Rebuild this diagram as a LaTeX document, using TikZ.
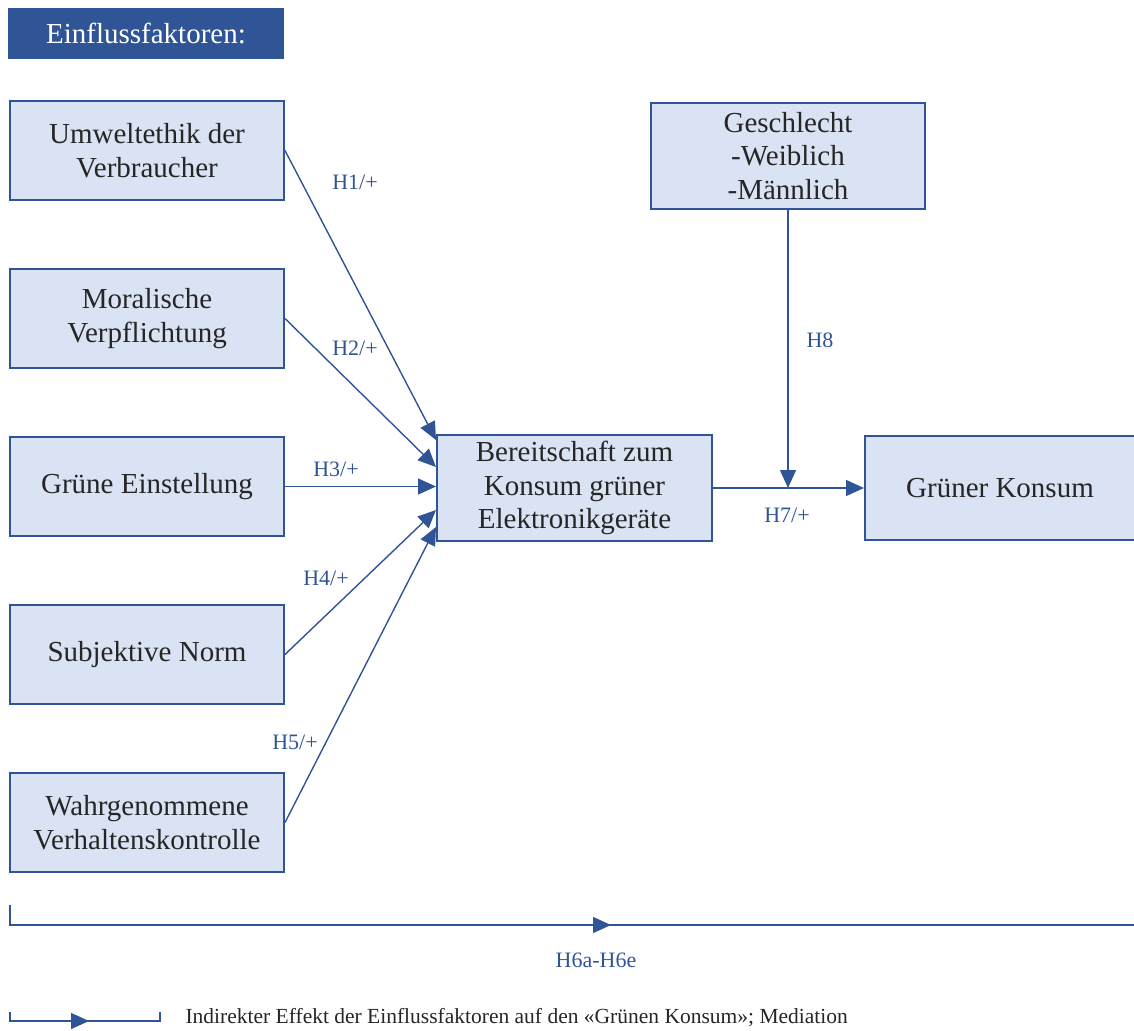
\documentclass[tikz,border=0pt]{standalone}
\usepackage{fontspec}
\setmainfont{Liberation Serif}
\usetikzlibrary{arrows.meta}
\definecolor{dunkelblau}{HTML}{2F5597}
\definecolor{hellblau}{HTML}{DAE3F3}

\begin{document}
\begin{tikzpicture}[x=1pt,y=-1pt,
  main/.style = {draw=dunkelblau, line width=2pt, fill=hellblau, minimum width=274pt, minimum height=99pt, inner sep=2pt, align=center, text=black!85, font=\fontsize{29}{33.5}\selectfont},
  line/.style = {draw=dunkelblau, line width=1.4pt},
  arr/.style = {line, -{Triangle[length=18pt,width=16pt]}},
  lab/.style = {text=dunkelblau, font=\fontsize{22}{26}\selectfont},
  node distance={168pt}]
\useasboundingbox (0,0) rectangle (1134,1030);
\node[fill=dunkelblau, text=white, minimum width=276pt, minimum height=51pt, font=\fontsize{29}{33.5}\selectfont] (0) at (146,33.5) {Einflussfaktoren:};
\node[main] (1) at (147,150.5) {Umweltethik der\\Verbraucher};
\node[main] (2) [below of=1] {Moralische\\Verpflichtung};
\node[main] (3) [below of=2] {Grüne Einstellung};
\node[main] (4) [below of=3] {Subjektive Norm};
\node[main] (5) [below of=4] {Wahrgenommene\\Verhaltenskontrolle};
\node[main] (6) at (574.5,488) [minimum width=275pt, minimum height=106pt] {Bereitschaft zum\\Konsum grüner\\Elektronikgeräte};
\node[main] (7) at (788,156) [minimum height=106pt] {Geschlecht\\-Weiblich\\-Männlich};
\node[main] (8) at (1000,488) [minimum width=270pt, minimum height=104pt] {Grüner Konsum};
\draw[arr] (1.east) -- ([yshift=48pt]6.west);
\draw[arr] (2.east) -- ([yshift=21pt]6.west);
\draw[arr] (3.east) -- (3.east -| 6.west);
\draw[arr] (4.east) -- ([yshift=-22pt]6.west);
\draw[arr] (5.east) -- ([yshift=-39pt]6.west);
\draw[arr] (6.east) -- (6.east -| 8.west);
\draw[arr] (7.south) -- (7.south |- 6.east);
\node[lab] (h1) at (355,182) {H1/+};
\node[lab] (h2) at (355,348) {H2/+};
\node[lab] (h3) at (336,469) {H3/+};
\node[lab] (h4) at (326,578) {H4/+};
\node[lab] (h5) at (295,742) {H5/+};
\node[lab] (h8) at (820,340) {H8};
\node[lab] (h7) at (787,515) {H7/+};
\node[lab] (h6) at (596,960) {H6a-H6e};
\coordinate (a) at (10,905);
\coordinate (b) at (10,925);
\coordinate (c) at (1134,925);
\coordinate (m) at (611,925);
\draw[line] (a) -- (b) -- (c);
\draw[arr] (b) -- (m);
\coordinate (l1) at (10,1012);
\coordinate (l2) at (10,1021);
\coordinate (l3) at (160,1021);
\coordinate (l4) at (160,1012);
\coordinate (l5) at (89,1021);
\draw[line] (l1) -- (l2) -- (l3) -- (l4);
\draw[arr] (l2) -- (l5);
\node[anchor=west, text=black!85, font=\fontsize{21.5}{25}\selectfont] (legende) at (182,1018) {Indirekter Effekt der Einflussfaktoren auf den «Grünen Konsum»; Mediation};
\end{tikzpicture}
\end{document}
